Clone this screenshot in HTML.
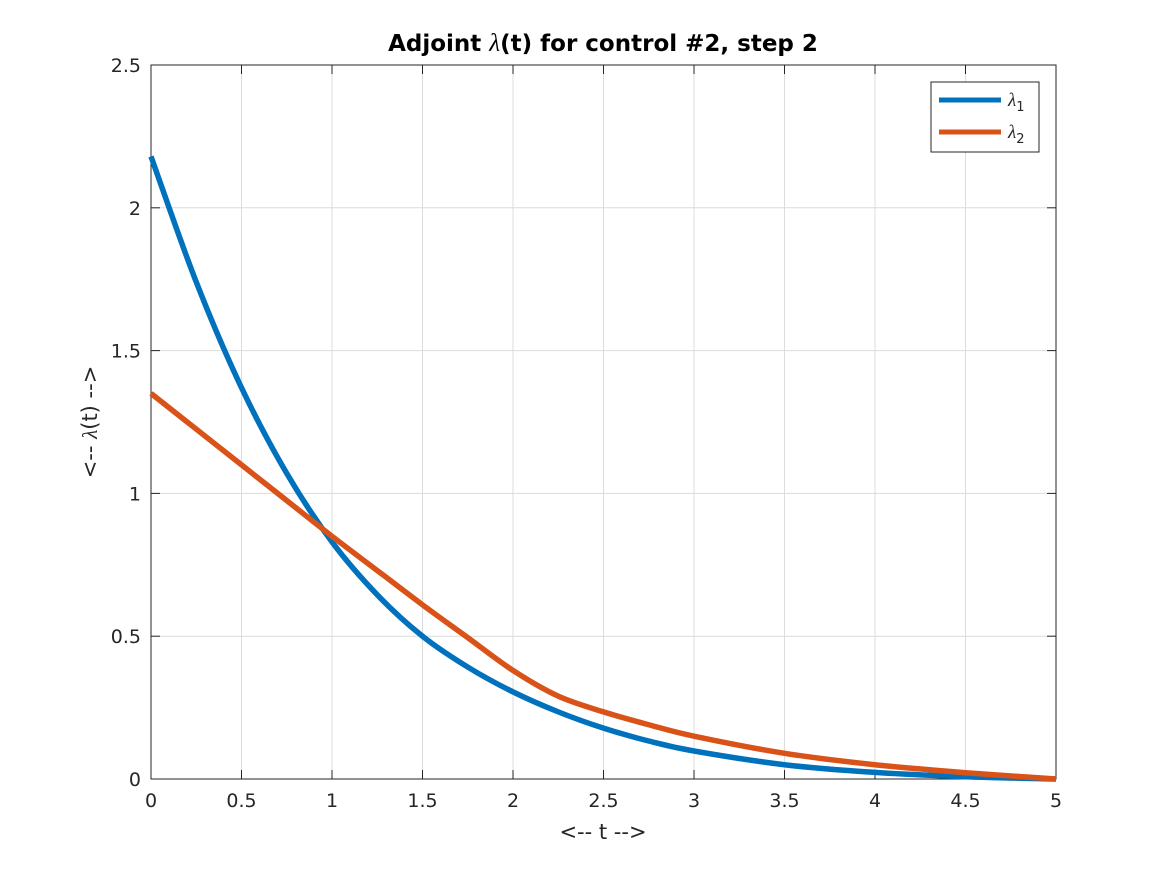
<!DOCTYPE html>
<html><head><meta charset="utf-8"><style>
body{margin:0;background:#fff;}
svg text{font-family:"DejaVu Sans","Liberation Sans",sans-serif;fill:#262626;}
</style></head><body>
<svg width="1167" height="875" xmlns="http://www.w3.org/2000/svg">
<rect width="1167" height="875" fill="#fff"/>
<g id="grid"></g>
<g id="ticks"></g>
<rect x="151" y="65" width="905" height="714" fill="none" stroke="#262626" stroke-width="1"/>
<g id="series"></g>
<text x="603" y="51" text-anchor="middle" font-size="23" font-weight="bold" style="fill:#000">Adjoint <tspan font-style="italic" font-weight="normal" font-size="25" font-family="Liberation Serif, serif">λ</tspan>(t) for control #2, step 2</text>
<text x="603" y="839" text-anchor="middle" font-size="21">&lt;-- t --&gt;</text>
<text transform="translate(97,422) rotate(-90)" text-anchor="middle" font-size="21">&lt;-- <tspan font-style="italic" font-family="Liberation Serif, serif">λ</tspan>(t) --&gt;</text>
<g>
<rect x="931" y="82" width="108" height="70" fill="#fff" stroke="#262626" stroke-width="1"/>
<line x1="939" y1="100" x2="1001" y2="100" stroke="#0072BD" stroke-width="5"/>
<text x="1008" y="106" font-size="19"><tspan font-style="italic" font-family="Liberation Serif, serif">λ</tspan><tspan font-size="13" dy="5">1</tspan></text>
<line x1="939" y1="132" x2="1001" y2="132" stroke="#D95319" stroke-width="5"/>
<text x="1008" y="138" font-size="19"><tspan font-style="italic" font-family="Liberation Serif, serif">λ</tspan><tspan font-size="13" dy="5">2</tspan></text>
</g>
</svg>
<script>
const tVals=[0,0.25,0.5,0.75,1,1.25,1.5,1.75,2,2.25,2.5,2.75,3,3.5,4,4.5,5];
const lambda1=[2.18,1.74,1.37,1.07,0.83,0.645,0.5,0.392,0.305,0.235,0.178,0.133,0.098,0.05,0.023,0.008,0];
const lambda2=[1.35,1.225,1.1,0.975,0.85,0.73,0.61,0.495,0.38,0.29,0.235,0.19,0.15,0.09,0.05,0.022,0];
const xTicks=[0,0.5,1,1.5,2,2.5,3,3.5,4,4.5,5];
const xTickLabels=["0","0.5","1","1.5","2","2.5","3","3.5","4","4.5","5"];
const yTicks=[0,0.5,1,1.5,2,2.5];
const yTickLabels=["0","0.5","1","1.5","2","2.5"];
const NS="http://www.w3.org/2000/svg";
const X=v=>151+v/5*905, Y=v=>779-v/2.5*714;
function mk(tag,attrs,parent){const e=document.createElementNS(NS,tag);for(const k in attrs)e.setAttribute(k,attrs[k]);parent.appendChild(e);return e;}
const grid=document.getElementById('grid'),ticks=document.getElementById('ticks'),series=document.getElementById('series');
xTicks.forEach((v,i)=>{
 const g=mk('line',{x1:X(v),x2:X(v),y1:65,y2:779,stroke:'#dcdcdc','stroke-width':1},grid);
 
 
 const t1=mk('line',{x1:X(v),x2:X(v),y1:779,y2:770,stroke:'#262626'},ticks);
 
 
 const t2=mk('line',{x1:X(v),x2:X(v),y1:65,y2:74,stroke:'#262626'},ticks);
 
 
 const l=mk('text',{x:X(v),y:807,'text-anchor':'middle','font-size':19},ticks);l.textContent=xTickLabels[i];
 
 
});
yTicks.forEach((v,i)=>{
 const g=mk('line',{x1:151,x2:1056,y1:Y(v),y2:Y(v),stroke:'#dcdcdc','stroke-width':1},grid);
 
 
 const t1=mk('line',{x1:151,x2:160,y1:Y(v),y2:Y(v),stroke:'#262626'},ticks);
 
 
 const t2=mk('line',{x1:1047,x2:1056,y1:Y(v),y2:Y(v),stroke:'#262626'},ticks);
 
 
 const l=mk('text',{x:141,y:Y(v)+7,'text-anchor':'end','font-size':19},ticks);l.textContent=yTickLabels[i];
 
 
});
function smooth(xs,ys){
 const p=xs.map((x,i)=>[X(x),Y(ys[i])]);let d='M'+p[0][0]+','+p[0][1];
 for(let i=0;i<p.length-1;i++){const a=p[i-1]||p[i],b=p[i],c=p[i+1],e=p[i+2]||c;
  const c1=[b[0]+(c[0]-a[0])/6,b[1]+(c[1]-a[1])/6],c2=[c[0]-(e[0]-b[0])/6,c[1]-(e[1]-b[1])/6];
  d+=' C'+c1+' '+c2+' '+c;}
 return d;}
const p1=mk('path',{d:smooth(tVals,lambda1),fill:'none',stroke:'#0072BD','stroke-width':5.5},series);


const p2=mk('path',{d:smooth(tVals,lambda2),fill:'none',stroke:'#D95319','stroke-width':5.5},series);


</script>
</body></html>
